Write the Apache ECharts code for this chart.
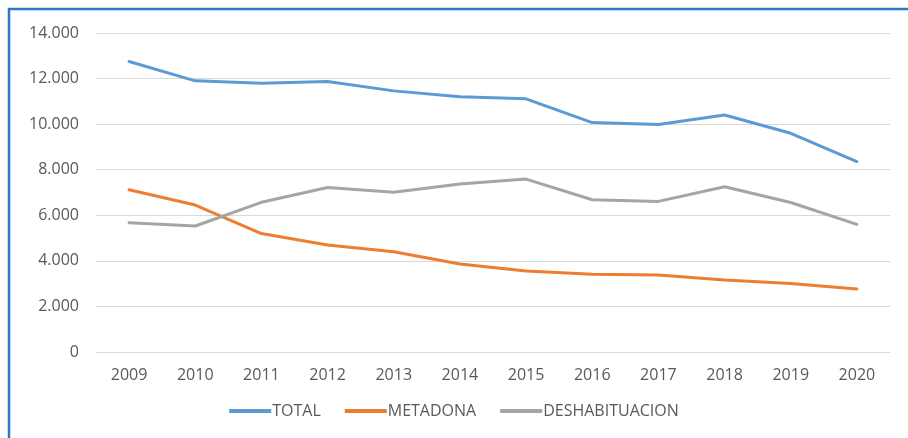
<!DOCTYPE html>
<html>
<head>
<meta charset="utf-8">
<script src="https://cdn.jsdelivr.net/npm/echarts@6/dist/echarts.min.js"></script>
<style>
  html, body { margin: 0; padding: 0; background: #fff; }
  #chart { width: 908px; height: 438px; }
</style>
</head>
<body>
<div id="chart"></div>
<script>
// Years on the category axis
const years = ['2009', '2010', '2011', '2012', '2013', '2014', '2015', '2016', '2017', '2018', '2019', '2020'];

// Patients per programme
const total = [12750, 11900, 11800, 11870, 11460, 11200, 11110, 10070, 9980, 10400, 9600, 8360];
const metadona = [7120, 6450, 5200, 4700, 4400, 3860, 3550, 3410, 3380, 3160, 3010, 2770];
const deshabituacion = [5670, 5530, 6570, 7220, 7010, 7370, 7590, 6680, 6610, 7250, 6560, 5600];

// Y-axis ticks
const yTicks = [0, 2000, 4000, 6000, 8000, 10000, 12000, 14000];

const chart = echarts.init(document.getElementById('chart'), null, { renderer: 'canvas' });

const fontFamily = '"Open Sans", "Liberation Sans", sans-serif';
const textColor = '#595959';

function fmt(v) {
  return v === 0 ? '0' : (v / 1000).toFixed(3);
}

function lineSeries(name, data, color) {
  return {
    name: name,
    type: 'line',
    data: data,
    symbol: 'none',
    smooth: false,
    lineStyle: { color: color, width: 3, cap: 'round', join: 'round' },
    itemStyle: { color: color }
  };
}

chart.setOption({
  animation: false,
  backgroundColor: '#ffffff',
  graphic: [{
    type: 'rect',
    shape: { x: 9, y: 9, width: 1000, height: 1000 },
    style: { fill: 'none', stroke: '#2F75C4', lineWidth: 2.5 },
    z: 10
  }],
  grid: { left: 96, right: 18, top: 33, bottom: 86, containLabel: false },
  legend: {
    bottom: 14,
    left: 'center',
    itemWidth: 42,
    itemHeight: 4,
    itemGap: 24,
    icon: 'rect',
    textStyle: { color: textColor, fontFamily: fontFamily, fontSize: 16, padding: [0, 0, 0, -4] },
    data: ['TOTAL', 'METADONA', 'DESHABITUACION']
  },
  xAxis: {
    type: 'category',
    data: years,
    boundaryGap: true,
    axisLine: { show: false },
    axisTick: { show: false },
    axisLabel: { color: textColor, fontFamily: fontFamily, fontSize: 16, margin: 15 }
  },
  yAxis: {
    type: 'value',
    min: yTicks[0],
    max: yTicks[yTicks.length - 1],
    interval: 2000,
    axisLine: { show: false },
    axisTick: { show: false },
    splitLine: { lineStyle: { color: '#d9d9d9', width: 1 } },
    axisLabel: { color: textColor, fontFamily: fontFamily, fontSize: 16, margin: 17, formatter: fmt }
  },
  series: [
    lineSeries('TOTAL', total, '#5B9BD5'),
    lineSeries('METADONA', metadona, '#ED7D31'),
    lineSeries('DESHABITUACION', deshabituacion, '#A5A5A5')
  ]
});
</script>
</body>
</html>
